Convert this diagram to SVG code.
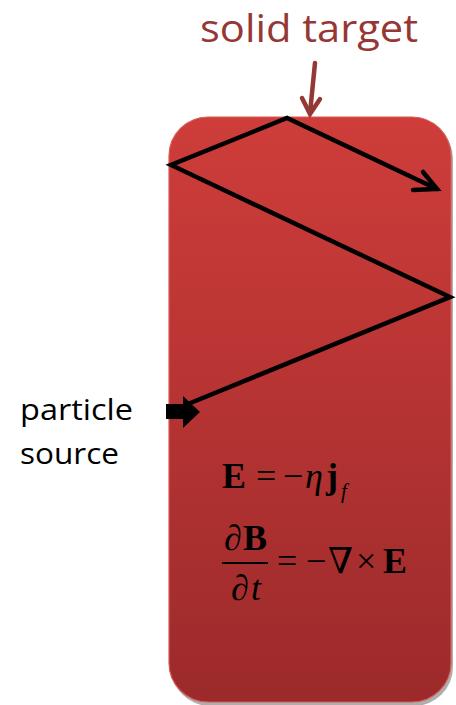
<svg xmlns="http://www.w3.org/2000/svg" width="456" height="705" viewBox="0 0 456 705">
<defs>
<linearGradient id="g" x1="0" y1="0" x2="0" y2="1">
<stop offset="0" stop-color="#CE3D3A"/>
<stop offset="1" stop-color="#9C2A2B"/>
</linearGradient>
<style>
.zz{fill:none;stroke:#000;stroke-width:4.5;stroke-linejoin:miter;stroke-linecap:round}
.lbl{font-family:"Open Sans","Liberation Sans",sans-serif}
.math{font-family:"Liberation Serif","DejaVu Serif",serif;fill:#000;font-size:36px}
.b{font-weight:bold}
.i{font-style:italic}
</style>
</defs>
<g id="target">
<rect x="171" y="120" width="282" height="586" rx="39" ry="39" fill="#9a9a9a" opacity="0.8"/>
<rect x="169" y="117" width="282" height="585" rx="39" ry="39" fill="url(#g)" stroke="#D65A55" stroke-width="1.2"/>
</g>
<g id="title">
<text class="lbl" x="200" y="42" font-size="39" fill="#953735" textLength="218" lengthAdjust="spacingAndGlyphs">solid target</text>
</g>
<g id="source">
<text class="lbl" x="20" y="420" font-size="29" fill="#000" textLength="113" lengthAdjust="spacingAndGlyphs">particle</text>
<text class="lbl" x="20" y="464" font-size="29" fill="#000" textLength="99" lengthAdjust="spacingAndGlyphs">source</text>
</g>
<g id="equations">
<text class="math" y="488"><tspan x="222" class="b">E</tspan><tspan x="256">=</tspan><tspan x="283">−</tspan><tspan x="305" class="i">η</tspan><tspan x="326" class="b">j</tspan><tspan x="341" class="i" font-size="21" dy="10">f</tspan></text>
<text class="math" y="550"><tspan x="224" class="i">∂</tspan><tspan x="243" class="b">B</tspan></text>
<line x1="222" y1="563" x2="268" y2="563" stroke="#000" stroke-width="2"/>
<text class="math" y="600"><tspan x="231" class="i">∂</tspan><tspan x="251" class="i">t</tspan></text>
<text class="math" y="573"><tspan x="277">=</tspan><tspan x="306">−</tspan><tspan x="328">∇</tspan><tspan x="356">×</tspan><tspan x="383" class="b">E</tspan></text>
</g>
<g id="connectors">
<polyline class="zz" points="188,404 450,297 171,165 287,118 437,189"/>
<polyline class="zz" points="413,190 437,189 423,172"/>
<path d="M315,63 L310,113" stroke="#953735" stroke-width="4.5" fill="none" stroke-linecap="round"/>
<polyline points="302,98 310,114 320,99" stroke="#953735" stroke-width="4.5" fill="none" stroke-linecap="round" stroke-linejoin="miter"/>
<polygon points="166,404 183,404 183,396 200,412 183,428 183,419 166,419" fill="#000"/>
</g>
</svg>
